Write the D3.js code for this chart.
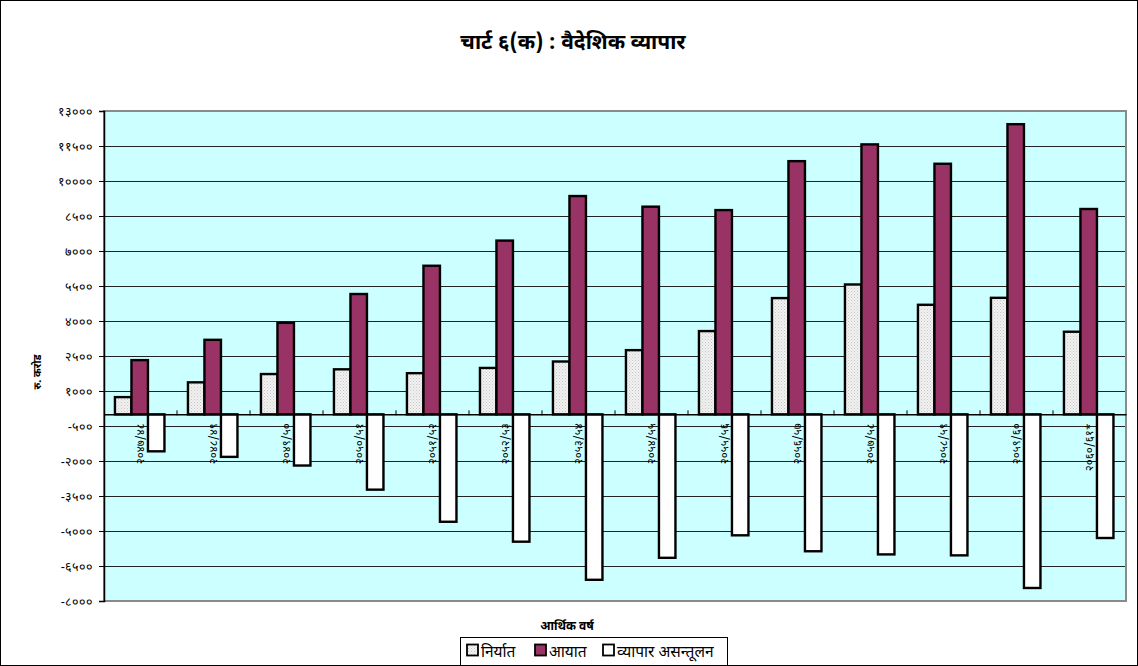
<!DOCTYPE html>
<html>
<head>
<meta charset="utf-8">
<script src="https://cdn.jsdelivr.net/npm/d3@7"></script>
<style>
  html, body { margin: 0; padding: 0; background: #fff; }
  svg { display: block; font-family: "Noto Sans Devanagari", "Noto Sans", "Lohit Devanagari", sans-serif; }
</style>
</head>
<body>
<svg id="chart" width="1138" height="666"></svg>
<script>
// ---- Data (Rs. crore) ----
const categories = ["२०४७/४८","२०४८/४९","२०४९/५०","२०५०/५१","२०५१/५२","२०५२/५३","२०५३/५४","२०५४/५५","२०५५/५६","२०५६/५७","२०५७/५८","२०५८/५९","२०५९/६०","२०६०/६१*"];
const exportsVals = [738, 1371, 1727, 1929, 1764, 1988, 2264, 2751, 3568, 4982, 5565, 4695, 4993, 3540];
const importsVals = [2323, 3194, 3921, 5157, 6368, 7446, 9355, 8900, 8753, 10851, 11569, 10739, 12435, 8800];
const balanceVals = [-1585, -1823, -2194, -3228, -4604, -5458, -7091, -6149, -5185, -5868, -6003, -6044, -7442, -5300];
const seriesNames = ["निर्यात", "आयात", "व्यापार असन्तूलन"];
const yTickValues = [-8000, -6500, -5000, -3500, -2000, -500, 1000, 2500, 4000, 5500, 7000, 8500, 10000, 11500, 13000];
const titleText = "चार्ट ६(क) : वैदेशिक व्यापार";
const yTitle = "रु. करोड";
const xTitle = "आर्थिक वर्ष";

const devDigits = "०१२३४५६७८९";
const toDev = n => String(n).replace(/[0-9]/g, d => devDigits[+d]);

const svg = d3.select("#chart");
const W = 1138, H = 666;
const plot = { left: 104, right: 1126, top: 111, bottom: 601 };

// defs: pattern for exports
const defs = svg.append("defs");
const pat = defs.append("pattern").attr("id", "dots").attr("patternUnits", "userSpaceOnUse")
  .attr("width", 3).attr("height", 3);
pat.append("rect").attr("width", 3).attr("height", 3).attr("fill", "#f2f2f2");
pat.append("rect").attr("x", 0).attr("y", 0).attr("width", 1).attr("height", 1).attr("fill", "#c4c4c4");
pat.append("rect").attr("x", 1.5).attr("y", 1.5).attr("width", 1).attr("height", 1).attr("fill", "#d0d0d0");

// outer frame
svg.append("rect").attr("x", 0.5).attr("y", 0.5).attr("width", W - 1).attr("height", H - 1)
  .attr("fill", "#fff").attr("stroke", "#000").attr("stroke-width", 1);

// scales
const x0 = d3.scaleBand().domain(categories).range([plot.left, plot.right]).paddingInner(0).paddingOuter(0);
const keys = ["exp", "imp", "bal"];
const barW = 16.5;
const x1 = d3.scaleBand().domain(keys).range([0, barW * 3]);
const groupOffset = (x0.bandwidth() - barW * 3) / 2 - 0.8;
const y = d3.scaleLinear().domain([-8000, 13000]).range([plot.bottom, plot.top]);

// plot background
svg.append("rect").attr("x", plot.left).attr("y", plot.top)
  .attr("width", plot.right - plot.left).attr("height", plot.bottom - plot.top)
  .attr("fill", "#ccffff");

// gridlines
svg.append("g").selectAll("line").data(yTickValues).join("line")
  .attr("x1", plot.left).attr("x2", plot.right)
  .attr("y1", d => Math.round(y(d)) + 0.5).attr("y2", d => Math.round(y(d)) + 0.5)
  .attr("stroke", "#222").attr("stroke-width", 1);

// plot border (gray)
svg.append("rect").attr("x", plot.left).attr("y", plot.top)
  .attr("width", plot.right - plot.left).attr("height", plot.bottom - plot.top)
  .attr("fill", "none").attr("stroke", "#8a8a8a").attr("stroke-width", 2);

// y axis
const yAxis = d3.axisLeft(y).tickValues(yTickValues).tickSize(5).tickPadding(6)
  .tickFormat(d => toDev(d));
const gy = svg.append("g").attr("transform", `translate(${plot.left},0)`).call(yAxis);
gy.select(".domain").attr("stroke", "#000").attr("stroke-width", 1.5);
gy.selectAll(".tick line").attr("stroke", "#000");
gy.selectAll(".tick text").attr("font-size", 12.5).attr("fill", "#000");

// category labels (rotated)
const zeroY = y(0);
svg.append("g").selectAll("text").data(categories).join("text")
  .attr("transform", d => `translate(${x0(d) + x0.bandwidth() / 2 + 3},${zeroY + 9}) rotate(-90)`)
  .attr("text-anchor", "end")
  .attr("font-size", 11.5).attr("fill", "#000")
  .text(d => d);

// bars
const rows = categories.map((c, i) => ({ c, vals: [
  { k: "exp", v: exportsVals[i] }, { k: "imp", v: importsVals[i] }, { k: "bal", v: balanceVals[i] }] }));
const fills = { exp: "url(#dots)", imp: "#993366", bal: "#ffffff" };
const groups = svg.append("g").selectAll("g").data(rows).join("g")
  .attr("transform", d => `translate(${x0(d.c) + groupOffset},0)`);
groups.selectAll("rect").data(d => d.vals).join("rect")
  .attr("x", d => x1(d.k)).attr("width", x1.bandwidth())
  .attr("y", d => y(Math.max(0, d.v))).attr("height", d => Math.abs(y(d.v) - y(0)))
  .attr("fill", d => fills[d.k]).attr("stroke", "#000").attr("stroke-width", 2.4);

// category axis at zero
const xAxis = d3.axisBottom(x0).tickSize(0).tickFormat("");
const gx = svg.append("g").attr("transform", `translate(0,${zeroY})`).call(xAxis);
gx.select(".domain").attr("stroke", "#000").attr("stroke-width", 1.5);
svg.append("g").selectAll("line").data(categories.slice(1)).join("line")
  .attr("x1", d => x0(d)).attr("x2", d => x0(d))
  .attr("y1", zeroY - 4).attr("y2", zeroY + 1)
  .attr("stroke", "#000").attr("stroke-width", 1);

// title
svg.append("text").attr("x", 573).attr("y", 49).attr("text-anchor", "middle")
  .attr("font-size", 21).attr("font-weight", "bold").attr("fill", "#000").text(titleText);

// y title
svg.append("text").attr("transform", `translate(41,372) rotate(-90)`).attr("text-anchor", "middle")
  .attr("font-size", 10.5).attr("font-weight", "bold").attr("fill", "#000").text(yTitle);

// x title
svg.append("text").attr("x", 567).attr("y", 630).attr("text-anchor", "middle")
  .attr("font-size", 12).attr("font-weight", "bold").attr("fill", "#000").text(xTitle);

// legend
const lg = svg.append("g");
lg.append("rect").attr("x", 460.5).attr("y", 637.5).attr("width", 267).attr("height", 28)
  .attr("fill", "#fff").attr("stroke", "#000").attr("stroke-width", 1);
const legendX = [467, 535, 603];
const legendFills = [fills.exp, fills.imp, fills.bal];
seriesNames.forEach((name, i) => {
  lg.append("rect").attr("x", legendX[i]).attr("y", 644.5).attr("width", 11).attr("height", 11)
    .attr("fill", legendFills[i]).attr("stroke", "#000").attr("stroke-width", 1.8);
  lg.append("text").attr("x", legendX[i] + 14).attr("y", 657)
    .attr("font-size", 15.5).attr("fill", "#000").text(name);
});
</script>
</body>
</html>
